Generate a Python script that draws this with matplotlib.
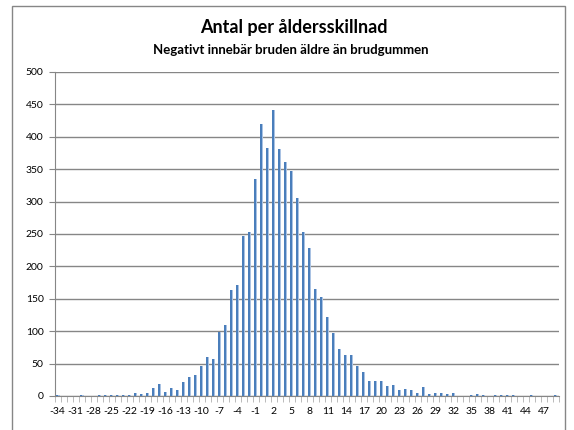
import matplotlib
matplotlib.use('Agg')
import matplotlib.pyplot as plt
import numpy as np
from matplotlib.patches import Rectangle

plt.rcParams['font.family'] = ['Lato', 'DejaVu Sans']
plt.rcParams['axes.unicode_minus'] = False

# åldersskillnad (brudgum - brud) och antal
diffs = list(range(-34, 50))
counts = [2, 0, 0, 0, 2, 0, 0, 1, 2, 2,
          2, 2, 2, 5, 3, 5, 13, 18, 6, 13,
          9, 22, 29, 32, 46, 60, 57, 99, 110, 164,
          171, 247, 253, 335, 420, 382, 442, 381, 361, 347,
          305, 253, 228, 165, 153, 122, 97, 72, 63, 63,
          46, 37, 23, 23, 23, 15, 17, 9, 11, 9,
          5, 14, 3, 5, 5, 3, 5, 0, 0, 2,
          3, 1, 0, 1, 1, 1, 1, 0, 0, 1,
          0, 0, 0, 1]
xticks = list(range(-34, 48, 3))
yticks = list(range(0, 501, 50))

fig = plt.figure(figsize=(5.74, 4.30), dpi=100)
ax = fig.add_axes([0.0953, 0.0791, 0.878, 0.7535])

x = np.array(diffs)
# ljus kant + mörk stapel (Excel-gradient)
ax.bar(x + 0.05, counts, width=0.5, color='#a9c2e3', zorder=2)
ax.bar(x - 0.07, counts, width=0.36, color='#4a7ebb', zorder=3)

ax.set_xlim(-34.5, 49.5)
ax.set_ylim(0, 500)
ax.set_yticks(yticks)
ax.set_xticks(xticks)
ax.set_xticks(np.arange(-34.5, 50, 1), minor=True)
ax.yaxis.grid(True, color='#868686', lw=1)
ax.set_axisbelow(True)

for s in ['top', 'right']:
    ax.spines[s].set_visible(False)
for s in ['left', 'bottom']:
    ax.spines[s].set_color('#868686')

ax.tick_params(axis='y', length=4, color='#868686', labelsize=7.5, pad=4)
ax.tick_params(axis='x', which='major', length=0, labelsize=7.5, pad=8)
ax.tick_params(axis='x', which='minor', length=4, color='#b0b0b0')

fig.text(0.512, 0.935, 'Antal per åldersskillnad', ha='center', va='center',
         fontsize=13, fontweight='bold')
fig.text(0.506, 0.883, 'Negativt innebär bruden äldre än brudgummen', ha='center',
         va='center', fontsize=9.5, fontweight='bold')

# ram runt diagrammet
fig.patches.append(Rectangle((12 / 574, -0.1), 553 / 574, 1.086, transform=fig.transFigure,
                             fill=False, edgecolor='#868686', lw=1))

fig.savefig('out.png', dpi=100)
